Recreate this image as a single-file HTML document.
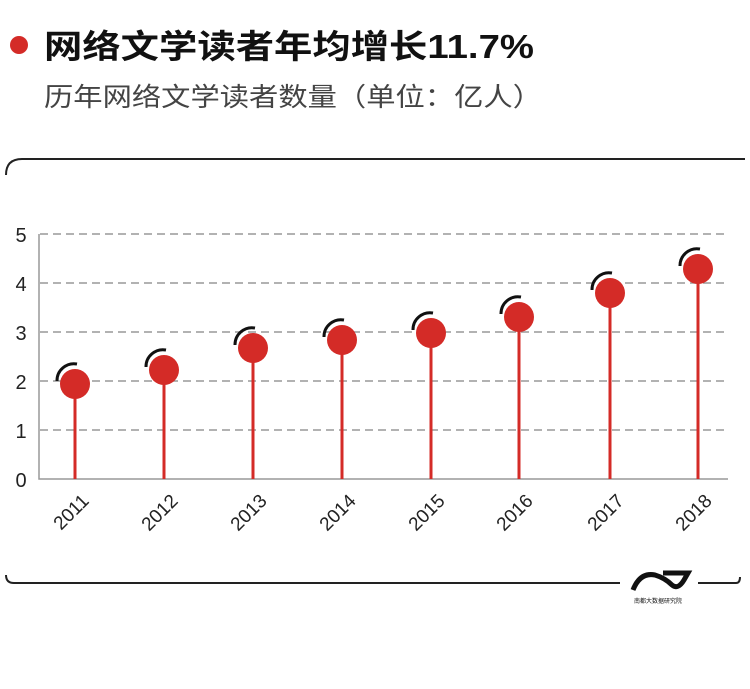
<!DOCTYPE html>
<html><head><meta charset="utf-8"><style>
body{margin:0;background:#fff;width:750px;height:684px;overflow:hidden;font-family:"Liberation Sans","Noto Sans CJK SC",sans-serif}
</style></head><body>
<svg width="750" height="684" xmlns="http://www.w3.org/2000/svg" font-family="Liberation Sans, Noto Sans CJK SC, sans-serif">
<circle cx="19" cy="45" r="9" fill="#d42b27"/>
<text x="44" y="58" font-size="33" font-weight="bold" fill="#111" textLength="490" lengthAdjust="spacingAndGlyphs">网络文学读者年均增长11.7%</text>
<text x="44" y="106" font-size="26" fill="#444" textLength="498" lengthAdjust="spacingAndGlyphs">历年网络文学读者数量（单位：亿人）</text>
<path d="M6 175 Q6 159 22 159 L745 159" fill="none" stroke="#222" stroke-width="2"/>
<path d="M6 575 Q6 583 14 583 L620 583 M698 583 L736 583 Q740 583 740 577" fill="none" stroke="#222" stroke-width="2"/>
<path d="M633 590 Q640 572 655 575 Q665 578 672 585 Q678 590 684 580 L688 573 L663 573" fill="none" stroke="#111" stroke-width="5"/>
<text x="658" y="603" font-size="6" text-anchor="middle" fill="#111">南都大数据研究院</text>
<g stroke="#999" stroke-width="1.5" stroke-dasharray="8,5">
<line x1="40" y1="234" x2="728" y2="234"/><line x1="40" y1="283" x2="728" y2="283"/><line x1="40" y1="332" x2="728" y2="332"/><line x1="40" y1="381" x2="728" y2="381"/><line x1="40" y1="430" x2="728" y2="430"/>
</g>
<path d="M39 234 L39 479 L728 479" fill="none" stroke="#999" stroke-width="1.5"/>
<g font-size="20" fill="#222" text-anchor="middle">
<text x="21" y="242">5</text><text x="21" y="291">4</text><text x="21" y="340">3</text><text x="21" y="389">2</text><text x="21" y="438">1</text><text x="21" y="487">0</text>
</g>
<g font-size="19" fill="#222" text-anchor="end">
<text transform="translate(90,502) rotate(-45)">2011</text>
<text transform="translate(179,502) rotate(-45)">2012</text>
<text transform="translate(268,502) rotate(-45)">2013</text>
<text transform="translate(357,502) rotate(-45)">2014</text>
<text transform="translate(446,502) rotate(-45)">2015</text>
<text transform="translate(534,502) rotate(-45)">2016</text>
<text transform="translate(625,502) rotate(-45)">2017</text>
<text transform="translate(713,502) rotate(-45)">2018</text>
</g>
<g>
<line x1="75" y1="384" x2="75" y2="479" stroke="#d42b27" stroke-width="3"/><path d="M57 381 A17 17 0 0 1 77 364" fill="none" stroke="#111" stroke-width="3"/><circle cx="75" cy="384" r="15" fill="#d42b27"/>
<line x1="164" y1="370" x2="164" y2="479" stroke="#d42b27" stroke-width="3"/><path d="M146 367 A17 17 0 0 1 166 350" fill="none" stroke="#111" stroke-width="3"/><circle cx="164" cy="370" r="15" fill="#d42b27"/>
<line x1="253" y1="348" x2="253" y2="479" stroke="#d42b27" stroke-width="3"/><path d="M235 345 A17 17 0 0 1 255 328" fill="none" stroke="#111" stroke-width="3"/><circle cx="253" cy="348" r="15" fill="#d42b27"/>
<line x1="342" y1="340" x2="342" y2="479" stroke="#d42b27" stroke-width="3"/><path d="M324 337 A17 17 0 0 1 344 320" fill="none" stroke="#111" stroke-width="3"/><circle cx="342" cy="340" r="15" fill="#d42b27"/>
<line x1="431" y1="333" x2="431" y2="479" stroke="#d42b27" stroke-width="3"/><path d="M413 330 A17 17 0 0 1 433 313" fill="none" stroke="#111" stroke-width="3"/><circle cx="431" cy="333" r="15" fill="#d42b27"/>
<line x1="519" y1="317" x2="519" y2="479" stroke="#d42b27" stroke-width="3"/><path d="M501 314 A17 17 0 0 1 521 297" fill="none" stroke="#111" stroke-width="3"/><circle cx="519" cy="317" r="15" fill="#d42b27"/>
<line x1="610" y1="293" x2="610" y2="479" stroke="#d42b27" stroke-width="3"/><path d="M592 290 A17 17 0 0 1 612 273" fill="none" stroke="#111" stroke-width="3"/><circle cx="610" cy="293" r="15" fill="#d42b27"/>
<line x1="698" y1="269" x2="698" y2="479" stroke="#d42b27" stroke-width="3"/><path d="M680 266 A17 17 0 0 1 700 249" fill="none" stroke="#111" stroke-width="3"/><circle cx="698" cy="269" r="15" fill="#d42b27"/>
</g>
</svg>
</body></html>
